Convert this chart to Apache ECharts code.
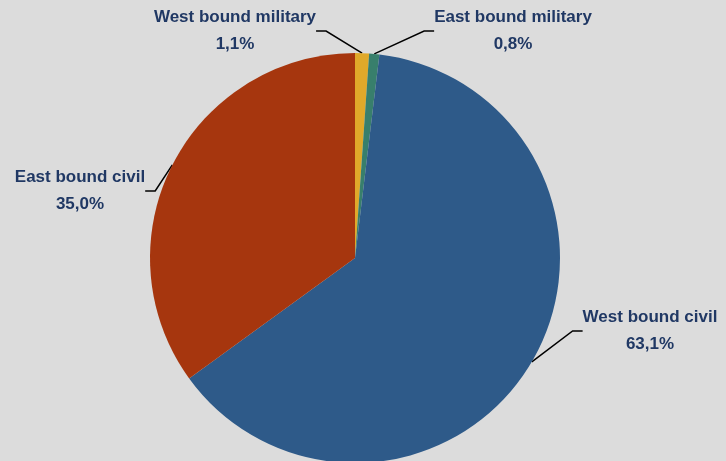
<!DOCTYPE html>
<html>
<head>
<meta charset="utf-8">
<script src="https://cdn.jsdelivr.net/npm/echarts@6/dist/echarts.min.js"></script>
<style>
  html, body { margin: 0; padding: 0; background: #dcdcdc; }
  #chart { width: 726px; height: 461px; }
</style>
</head>
<body>
<div id="chart"></div>
<script>
// slices, clockwise from 12 o'clock
const names = ["West bound military", "East bound military", "West bound civil", "East bound civil"];
const shares = [1.1, 0.8, 63.1, 35.0];
const colors = ["#e0a92a", "#387f6c", "#2e5a89", "#a6360e"];

// label centres (px), same order as names
const labelPos = [[235, 31], [513, 31], [650, 331], [80, 191]];

const chart = echarts.init(document.getElementById("chart"));

const option = {
  backgroundColor: "#dcdcdc",
  animation: false,
  series: [
    {
      type: "pie",
      center: [355, 258],
      radius: 205,
      startAngle: 90,
      clockwise: true,
      avoidLabelOverlap: false,
      data: names.map((n, i) => ({
        name: n,
        value: shares[i],
        itemStyle: { color: colors[i] }
      })),
      label: {
        show: true,
        position: "outside",
        formatter: p => "{t|" + p.name + "}\n{t|" + p.value.toFixed(1).replace(".", ",") + "%}",
        rich: {
          t: {
            align: "center",
            fontFamily: "Liberation Sans",
            fontWeight: "bold",
            fontSize: 17,
            lineHeight: 27,
            color: "#203864"
          }
        }
      },
      labelLine: {
        show: true,
        length: 20,
        length2: 10,
        lineStyle: { color: "#000", width: 1.5 }
      },
      labelLayout: params => {
        const p = labelPos[params.dataIndex];
        return { x: p[0], y: p[1], align: "center", verticalAlign: "middle" };
      }
    }
  ]
};

chart.setOption(option);
</script>
</body>
</html>
